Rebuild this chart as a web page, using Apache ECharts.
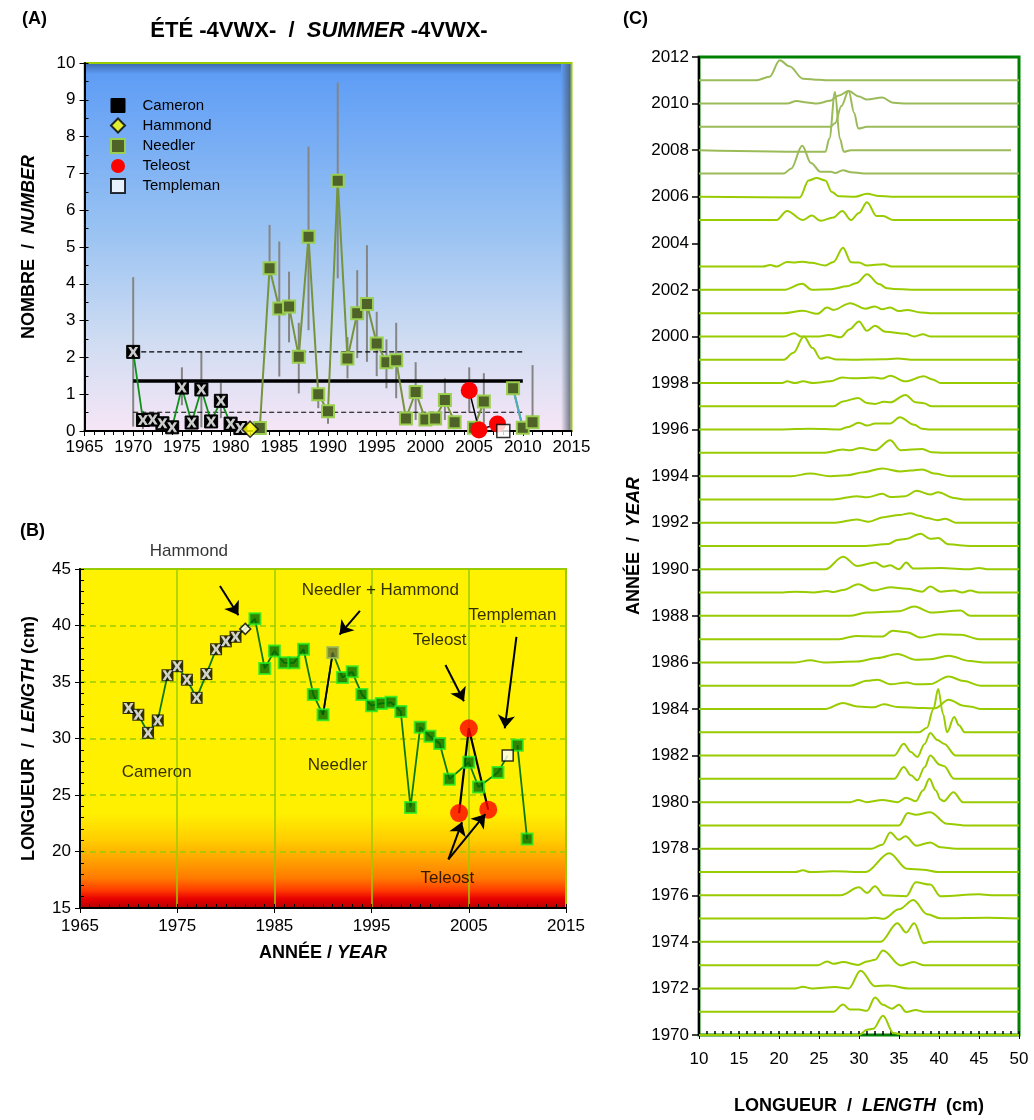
<!DOCTYPE html>
<html>
<head>
<meta charset="utf-8">
<script src="https://cdn.jsdelivr.net/npm/echarts/dist/echarts.min.js"></script>
<style>
  html, body { margin: 0; padding: 0; background: #fff; }
  #main { width: 1034px; height: 1120px; }
</style>
</head>
<body>
<div id="main"></div>
<script>
// ---------- panel A : number per tow ----------
const camYearsA = [1970, 1971, 1972, 1973, 1974, 1975, 1976, 1977, 1978, 1979, 1980, 1981];
const camA = [2.15, 0.30, 0.31, 0.21, 0.10, 1.18, 0.23, 1.13, 0.26, 0.82, 0.20, 0.08];
const hamYearsA = [1982];
const hamA = [0.05];
const needYearsA = [1983, 1984, 1985, 1986, 1987, 1988, 1989, 1990, 1991, 1992, 1993, 1994, 1995,
  1996, 1997, 1998, 1999, 2000, 2001, 2002, 2003, 2005, 2006, 2009, 2010, 2011];
const needA = [0.08, 4.42, 3.33, 3.38, 2.02, 5.28, 1.00, 0.54, 6.80, 1.97, 3.20, 3.45, 2.38,
  1.87, 1.92, 0.34, 1.06, 0.31, 0.34, 0.84, 0.24, 0.09, 0.80, 1.16, 0.09, 0.24];
const telYearsA = [2004.5, 2005.5, 2007.4];
const telA = [1.10, 0.03, 0.19];
const tplYearsA = [2008];
const tplA = [0.0];
const errYearsA = [1970, 1971, 1975, 1977, 1979, 1984, 1985, 1986, 1987, 1988, 1989, 1990, 1991,
  1992, 1993, 1994, 1995, 1996, 1997, 1999, 2002, 2004.5, 2006, 2011];
const errLoA = [0.12, 0.05, 0.70, 0.10, 0.35, 4.30, 1.48, 2.41, 1.02, 2.74, 0.62, 0.20, 4.15,
  1.43, 1.98, 1.88, 1.49, 1.16, 0.89, 0.30, 0.30, 0.50, 0.20, 0.24];
const errHiA = [4.18, 0.55, 1.73, 2.15, 1.31, 5.60, 5.15, 4.33, 2.94, 7.73, 1.00, 0.54, 9.47,
  2.55, 4.37, 5.05, 3.24, 2.49, 2.94, 1.87, 1.43, 1.73, 1.57, 1.79];
const refYearsA = [1970, 2010];
const meanA = 1.36, upperA = 2.15, lowerA = 0.51;

// ---------- panel B : mean length ----------
const camYearsB = [1970, 1971, 1972, 1973, 1974, 1975, 1976, 1977, 1978, 1979, 1980, 1981];
const camB = [32.7, 32.1, 30.5, 31.6, 35.6, 36.4, 35.2, 33.6, 35.7, 37.9, 38.6, 39.0];
const hamYearsB = [1982];
const hamB = [39.7];
const needYearsB = [1983, 1984, 1985, 1986, 1987, 1988, 1989, 1990, 1991, 1992, 1993, 1994, 1995,
  1996, 1997, 1998, 1999, 2000, 2001, 2002, 2003, 2005, 2006, 2008, 2010, 2011];
const needB = [40.6, 36.2, 37.75, 36.7, 36.7, 37.9, 33.9, 32.1, 37.6, 35.4, 35.9, 33.9, 32.9,
  33.1, 33.2, 32.4, 23.9, 31.0, 30.2, 29.55, 26.4, 27.9, 25.7, 27.0, 29.4, 21.1];
const mixYearB = 1991; // Needler + Hammond
const telYearsB = [2004, 2005, 2007];
const telB = [23.4, 30.9, 23.7];
const tplYearsB = [2009];
const tplB = [28.5];
const noteTextB = ['Hammond', 'Needler + Hammond', 'Teleost', 'Templeman', 'Cameron', 'Needler', 'Teleost'];
const noteAtB = [[1976.2, 46.6], [1995.9, 43.1], [2002.0, 38.7], [2009.5, 40.9], [1972.9, 27.0], [1991.5, 27.6], [2002.8, 17.6]];
const arrowsB = [
  [1979.4, 43.5, 1981.3, 40.9],
  [1993.8, 41.3, 1991.7, 39.2],
  [2002.6, 36.5, 2004.5, 33.3],
  [2009.9, 39.0, 2008.7, 30.9],
  [2002.9, 19.3, 2004.3, 22.6],
  [2002.9, 19.3, 2006.7, 23.3]
];

// ---------- panel C : length frequencies by year ([length, height]) ----------
const ridgeYears = [1970, 1971, 1972, 1973, 1974, 1975, 1976, 1977, 1978, 1979, 1980, 1981, 1982,
  1983, 1984, 1985, 1986, 1987, 1988, 1989, 1990, 1991, 1992, 1993, 1994, 1995, 1996, 1997, 1998,
  1999, 2000, 2001, 2002, 2003, 2005, 2006, 2007, 2008, 2009, 2010, 2011];
const ridgeShapes = [
  [[10,0],[30,0],[31,0.23],[31.8,0.27],[33,0.83],[34.3,0.09],[35.6,0],[50,0]],
  [[10,0],[26.8,0],[28,0.31],[28.9,0.09],[30,0.09],[31,0.04],[32,0.61],[33,0.3],[34.1,0.13],[35,0.3],[35.9,-0.01],[37.1,0.07],[38.1,0],[50,0]],
  [[10,0],[22,0],[23,0.07],[24.1,0],[27,0.06],[28.7,0],[30.2,0.76],[32,0.09],[33.7,0.13],[36.2,0],[50,0]],
  [[10,0],[24.9,0],[26,0.16],[26.8,0.06],[28,0.13],[29.9,0.01],[31,0.16],[32,0.23],[33,0.63],[35.2,-0.01],[36.8,0.13],[38.1,0],[50,0]],
  [[10,0],[32.7,0],[34.8,0.8],[35.9,0.4],[36.9,0.8],[38.1,-0.06],[38.9,0],[50,0]],
  [[10,0],[31,0],[32,0.04],[33.1,-0.01],[35,0.4],[36.8,0.8],[38.5,0.19],[40.2,0.01],[46,0.04],[50,0]],
  [[10,0],[27.7,0],[30,0.34],[31,0.1],[32,0.39],[33.1,0],[35.9,-0.04],[37.1,0.56],[38.9,0.46],[40.2,-0.04],[45,0.04],[46.5,0],[50,0]],
  [[10,0],[22,0],[23,0.07],[23.9,0],[26.8,0.03],[30.8,0],[33.8,0.81],[36,0.14],[38,0.1],[39.8,0],[50,0]],
  [[10,0],[31.6,0],[32.9,0.17],[33.9,0.7],[35,0.39],[35.8,0.53],[37.2,0.13],[38.9,0.27],[40.2,0.06],[42.1,0],[50,0]],
  [[10,0],[35,0],[36.1,0.53],[37.1,0.46],[38.9,0.57],[41,0.07],[43.1,0],[50,0]],
  [[10,0],[28.9,0],[29.9,0.09],[31,0],[32.9,0.09],[34.8,0],[35.9,0.19],[37.1,0.04],[38,0.5],[38.8,1.0],[39.6,0.5],[40.2,0.11],[40.6,0.04],[41.8,0.43],[43,0],[50,0]],
  [[10,0],[34.4,0],[35.6,0.51],[36.5,0.15],[37.3,-0.06],[38.2,0.5],[38.9,1.0],[40.1,0.61],[40.6,0.55],[41.9,0],[50,0]],
  [[10,0],[34.4,0],[35.6,0.51],[36.5,0.15],[37.3,-0.06],[38.2,0.5],[38.9,0.97],[39.8,0.67],[40.6,0.51],[42.1,0],[50,0]],
  [[10,0],[37.5,0],[38.5,0.2],[39.3,1.0],[39.9,1.86],[40.5,0.8],[41,0],[41.9,0.66],[42.5,0.3],[43.2,0],[50,0]],
  [[10,0],[25.8,0],[28,0.26],[29.8,0.11],[31.8,0.07],[33.1,0.2],[34.8,0.09],[38.1,0.04],[39.5,0.03],[41.2,0.4],[43.1,0.14],[44,0.1],[45.2,0],[50,0]],
  [[10,0],[28.9,0],[31,0.21],[32.3,0.26],[33.9,0.06],[36,0.14],[37.1,0.06],[38.9,0.07],[41.2,0.4],[43.1,0.2],[45.2,0],[50,0]],
  [[10,0],[22,0],[23.9,0.09],[25.6,0],[29.8,0.04],[32.3,0.19],[34.8,0.36],[37.1,0.11],[38.9,0.14],[41.2,0.29],[43.9,0.06],[45.6,0],[50,0]],
  [[10,0],[27.5,0],[29.6,0.14],[32.9,0.11],[34.2,0.36],[36,0.3],[37.7,0.07],[40,0.21],[42.7,0.19],[45,0],[50,0]],
  [[10,0],[28.8,0],[31,0.14],[33.5,0.18],[35,0.2],[36.9,0.4],[39.1,0.14],[42.7,0.23],[43.9,0],[50,0]],
  [[10,0],[20.5,0],[22,0.04],[24.3,0],[26,0.07],[26.8,0.02],[28,0.11],[29.9,0.36],[31.8,0.09],[33.9,0.23],[36,0.16],[37.9,0.04],[38.9,0.26],[40.2,0.04],[41.9,0.09],[42.9,0],[43.9,0.09],[45,0],[50,0]],
  [[10,0],[25.8,0],[28,0.54],[29.8,0.14],[32,0.29],[33.1,0.11],[33.9,0.17],[35,0],[35.9,0.29],[36.8,0.03],[40.2,0.05],[43.9,0],[45,0.06],[46,0],[50,0]],
  [[10,0],[30.5,0],[33.7,0.09],[34.8,0.26],[35.8,0.3],[37.7,0.53],[38.9,0.31],[39.9,0.34],[41.2,0.07],[43.9,0],[50,0]],
  [[10,0],[27,0],[29.7,0.14],[31.2,0.04],[33.1,0.24],[35,0.33],[36.4,0.41],[37.5,0.3],[38.5,0.2],[39.8,0.11],[40.8,0.17],[42.1,0],[50,0]],
  [[10,0],[26.8,0],[29.7,0.14],[31,0.09],[32.9,0.24],[33.9,0.1],[35.8,0.14],[37.2,0.37],[38.9,0.21],[39.9,0.31],[41.9,0.06],[43.1,0],[50,0]],
  [[10,0],[21.5,0],[23.9,0.11],[26.4,0],[28.5,0.04],[30.6,0.17],[32.9,0.33],[35.2,0.2],[36.4,0.24],[37.9,0.29],[39.4,0.11],[41.4,0],[50,0]],
  [[10,0],[25.5,0],[28,0.14],[28.9,0.11],[30.2,0.21],[32,0.11],[33.9,0.54],[35.2,0.11],[37.9,0.17],[39.1,0.03],[40.6,0],[50,0]],
  [[10,0],[20,0],[23.9,0.04],[27.6,0],[28.5,0.1],[30,0.29],[31,0.17],[32,0.26],[33.9,0.26],[35.1,0.53],[36.9,0.21],[37.9,0.03],[39,0],[50,0]],
  [[10,0],[26.8,0],[28,0.21],[29.9,0.36],[31,0.14],[32,0.1],[33.1,0.19],[33.9,0.17],[35.8,0.49],[37.1,0.17],[38.1,0.13],[39.1,0],[50,0]],
  [[10,0],[20.4,0],[21,0.07],[22,0],[23,0.07],[24.3,0],[26.4,0.07],[27.9,0.24],[29.1,0.2],[30.5,0.21],[31.8,0.24],[32.9,0.19],[33.9,0.31],[35.8,0.07],[38.1,0.29],[39.2,0.15],[40.2,0],[50,0]],
  [[10,0],[20.6,0],[21.8,0.3],[23.1,1.0],[24.2,0.5],[25.2,0.04],[26,0.11],[27.2,0.01],[29,0],[33,0.02],[34.8,0.05],[37,0],[50,0]],
  [[10,0],[20.6,0],[21.9,0.14],[22.7,0],[25,0],[26.2,0.06],[27.7,-0.04],[28.8,0.3],[30,0.64],[31,0.24],[32,0.46],[33.3,0.2],[35.8,0.11],[36.9,0],[38,0.09],[38.9,0],[50,0]],
  [[10,0],[20.6,0],[23,0.1],[24.8,-0.03],[26,0.24],[26.8,0.14],[28.9,0.43],[30.8,0.19],[32,0.29],[32.9,0.17],[33.9,0.24],[35,0.09],[36,0.14],[37.7,0.03],[38.9,0],[50,0]],
  [[10,0],[20.6,0],[22.9,0.26],[24.1,0],[26.5,0.03],[28.5,0.15],[29.7,0.29],[31,0.67],[32.5,0.25],[33.5,0.07],[34.3,0.04],[37.7,0],[50,0]],
  [[10,0],[18,0],[18.9,0.07],[19.7,0],[21,0.2],[22,0.18],[23,0.21],[24,0.16],[25.8,0.05],[26.8,0.2],[28,0.81],[29,0.19],[30,0.17],[31,0.05],[33.1,0.1],[34.1,0],[50,0]],
  [[10,0],[19.7,0],[21,0.39],[23,0],[24.1,0.19],[25.2,-0.03],[26.8,0.11],[27.9,0.39],[29,0],[30,0.3],[31,0.76],[32.2,0.17],[33,0.17],[34.3,0],[50,0]],
  [[10,0],[22.6,-0.03],[23.7,0.7],[24.7,0.8],[25.8,0.7],[26.6,0.2],[27.5,0.02],[29.5,0],[31,0.13],[32.5,0.03],[34,0],[50,0]],
  [[10,0],[20.6,0],[21.5,0.2],[22.9,1.19],[24,0.45],[25.2,0.07],[26.5,0.07],[27,0.02],[28,0.14],[29,0.05],[30.6,0],[50,0]],
  [[10,0],[25.8,-0.07],[26.3,0.5],[27.0,2.5],[27.6,0.5],[28.1,-0.07],[29,0],[49,0]],
  [[10,0],[26.4,0],[27,0.15],[27.8,0.9],[28.7,1.54],[29.4,0.6],[29.9,-0.07],[31,0],[50,0]],
  [[10,0],[21,0],[22.2,0.11],[23.5,0.05],[24.7,0],[26.4,0.12],[27.5,0.35],[28.7,0.54],[30,0.3],[31,0.17],[32.9,0.26],[34.3,0.03],[36,0],[50,0]],
  [[10,0],[17.2,0],[18.8,0.15],[20.1,0.86],[21.3,0.6],[23,0.07],[25,0.02],[26,0],[50,0]]
];

const FONT = 'Liberation Sans';
const xMark = 'path://M0,0L3,0L5,3.2L7,0L10,0L6.8,5L10,10L7,10L5,6.8L3,10L0,10L3.2,5Z';
const pairs = (xs, ys) => xs.map((x, i) => [x, ys[i]]);
const withGaps = (xs, ys) => {
  const out = [];
  xs.forEach((x, i) => {
    if (i > 0 && x - xs[i - 1] > 1) out.push([(x + xs[i - 1]) / 2, null]);
    out.push([x, ys[i]]);
  });
  return out;
};
const txt = { fontFamily: FONT, fontSize: 17, color: '#000', formatter: v => String(v) };
const bold = (size) => ({ fontFamily: FONT, fontSize: size, fontWeight: 'bold', color: '#000',
  rich: { i: { fontFamily: FONT, fontSize: size, fontWeight: 'bold', fontStyle: 'italic', color: '#000' } } });

const chart = echarts.init(document.getElementById('main'));

// trend line of panel B (Cameron -> Hammond -> Needler -> Templeman, break before 2010)
const needUntil = needYearsB.filter(y => y <= 2008);
const trendB = [].concat(
  pairs(camYearsB, camB), pairs(hamYearsB, hamB),
  needUntil.map(y => [y, needB[needYearsB.indexOf(y)]]),
  pairs(tplYearsB, tplB), [[2009.5, null]],
  needYearsB.filter(y => y > 2009).map(y => [y, needB[needYearsB.indexOf(y)]])
);

const ridgeSeries = ridgeYears.map((yr, k) => ({
  type: 'line', name: 'ridge' + yr, xAxisIndex: 2, yAxisIndex: 2,
  data: ridgeShapes[k].map(p => [p[0], yr + p[1]]),
  symbol: 'none', smooth: 0.35, smoothMonotone: 'x', silent: true, animation: false,
  lineStyle: { color: yr >= 2007 ? '#9bbb59' : '#99cc00', width: 2 }, z: 3
}));

const option = {
  animation: false,
  grid: [
    { left: 84.5, top: 63, width: 487, height: 368, show: true, borderColor: '#99cc00', borderWidth: 2,
      backgroundColor: new echarts.graphic.LinearGradient(0, 0, 0, 1, [
        { offset: 0, color: '#5a9af6' }, { offset: 0.45, color: '#98c2f2' },
        { offset: 0.75, color: '#cfdcf2' }, { offset: 1, color: '#f6e6f6' }]) },
    { left: 80, top: 569, width: 486, height: 339, show: true, borderColor: '#99cc00', borderWidth: 2,
      backgroundColor: new echarts.graphic.LinearGradient(0, 0, 0, 1, [
        { offset: 0, color: '#fff200' }, { offset: 0.72, color: '#fff000' },
        { offset: 0.80, color: '#ffcc00' }, { offset: 0.86, color: '#ffa000' },
        { offset: 0.91, color: '#ff7a00' }, { offset: 0.945, color: '#ff3c00' },
        { offset: 0.97, color: '#e80000' }, { offset: 1, color: '#b00000' }]) },
    { left: 699, top: 57, width: 320, height: 978, show: true, borderColor: '#008000', borderWidth: 3,
      backgroundColor: '#fff' }
  ],
  xAxis: [
    { gridIndex: 0, type: 'value', min: 1965, max: 2015, interval: 5,
      axisLine: { lineStyle: { color: '#000', width: 2 } },
      axisTick: { length: 5, lineStyle: { color: '#000' } },
      minorTick: { show: true, splitNumber: 5, length: 4, lineStyle: { color: '#000' } },
      axisLabel: { ...txt, margin: 8 }, splitLine: { show: false } },
    { gridIndex: 1, type: 'value', min: 1965, max: 2015, interval: 10,
      axisLine: { lineStyle: { color: '#000', width: 2 } },
      axisTick: { length: 5, lineStyle: { color: '#000' } },
      axisLabel: { ...txt, margin: 10 },
      splitLine: { show: true, lineStyle: { color: '#99cc00', width: 1.5 } },
      name: 'ANNÉE / {i|YEAR}', nameLocation: 'middle', nameGap: 36, nameTextStyle: bold(18) },
    { gridIndex: 2, type: 'value', min: 10, max: 50, interval: 5,
      axisLine: { show: false },
      axisTick: { length: 4, lineStyle: { color: '#000' } },
      axisLabel: { ...txt, margin: 16 }, splitLine: { show: false },
      name: 'LONGUEUR  /  {i|LENGTH}  (cm)', nameLocation: 'middle', nameGap: 62, nameTextStyle: bold(18) },
    { gridIndex: 1, type: 'value', min: 1965, max: 2015, interval: 1, position: 'bottom',
      axisLine: { show: false }, axisLabel: { show: false }, splitLine: { show: false },
      axisTick: { inside: true, length: 4, lineStyle: { color: '#000' } } },
    { gridIndex: 2, type: 'value', min: 10, max: 50, interval: 1, position: 'bottom',
      axisLine: { show: false }, axisLabel: { show: false }, splitLine: { show: false },
      axisTick: { inside: true, length: 4, lineStyle: { color: '#000', width: 1.5 } } }
  ],
  yAxis: [
    { gridIndex: 0, type: 'value', min: 0, max: 10, interval: 1,
      axisLine: { show: true, lineStyle: { color: '#000', width: 2 } },
      axisTick: { show: true, length: 5, lineStyle: { color: '#000' } },
      axisLabel: { ...txt, margin: 9 }, splitLine: { show: false },
      name: 'NOMBRE  /  {i|NUMBER}', nameLocation: 'middle', nameGap: 46, nameTextStyle: bold(18) },
    { gridIndex: 1, type: 'value', min: 15, max: 45, interval: 5,
      axisLine: { show: true, lineStyle: { color: '#000', width: 2 } },
      axisTick: { show: true, length: 5, lineStyle: { color: '#000' } },
      axisLabel: { ...txt, margin: 9 },
      splitLine: { show: true, lineStyle: { color: '#99cc00', type: [6, 4], width: 1.5 } },
      name: 'LONGUEUR  /  {i|LENGTH} (cm)', nameLocation: 'middle', nameGap: 42, nameTextStyle: bold(18) },
    { gridIndex: 2, type: 'value', min: 1970, max: 2012, interval: 2,
      axisLine: { show: true, lineStyle: { color: '#000', width: 2 } },
      axisTick: { show: true, length: 7, lineStyle: { color: '#000', width: 1.5 } },
      axisLabel: { ...txt, margin: 10 }, splitLine: { show: false },
      name: 'ANNÉE  /  {i|YEAR}', nameLocation: 'middle', nameGap: 56, nameTextStyle: bold(18) },
    { gridIndex: 0, type: 'value', min: 0, max: 10, interval: 0.5, position: 'left',
      axisLine: { show: false }, axisLabel: { show: false }, splitLine: { show: false },
      axisTick: { show: true, inside: true, length: 4, lineStyle: { color: '#000' } } },
    { gridIndex: 1, type: 'value', min: 15, max: 45, interval: 1, position: 'left',
      axisLine: { show: false }, axisLabel: { show: false }, splitLine: { show: false },
      axisTick: { show: true, inside: true, length: 4, lineStyle: { color: '#000' } } }
  ],
  legend: {
    orient: 'vertical', left: 105, top: 93, itemWidth: 14, itemHeight: 14, itemGap: 4.5,
    selectedMode: false, formatter: '   {name}',
    textStyle: { fontFamily: FONT, fontSize: 15, color: '#000' },
    data: [
      { name: 'Cameron', icon: 'rect', itemStyle: { color: '#000', borderColor: '#000', borderWidth: 1 } },
      { name: 'Hammond', icon: 'diamond' },
      { name: 'Needler', icon: 'rect' },
      { name: 'Teleost', icon: 'circle' },
      { name: 'Templeman', icon: 'rect' }
    ]
  },
  graphic: { elements: [
    { type: 'text', x: 22, y: 10, style: { text: '(A)', font: 'bold 18px "Liberation Sans"', fill: '#000' } },
    { type: 'text', x: 319, y: 31, style: { text: 'ÉTÉ -4VWX-  /  {i|SUMMER} -4VWX-',
      font: 'bold 22px "Liberation Sans"', fill: '#000', align: 'center', verticalAlign: 'middle',
      rich: { i: { fontFamily: FONT, fontSize: 22, fontWeight: 'bold', fontStyle: 'italic', fill: '#000' } } } },
    { type: 'text', x: 20, y: 522, style: { text: '(B)', font: 'bold 18px "Liberation Sans"', fill: '#000' } },
    { type: 'text', x: 623, y: 10, style: { text: '(C)', font: 'bold 18px "Liberation Sans"', fill: '#000' } },
    { type: 'rect', z: 1, shape: { x: 561, y: 64, width: 9.5, height: 366 },
      style: { fill: new echarts.graphic.LinearGradient(0, 0, 1, 0, [
        { offset: 0, color: 'rgba(70,80,100,0)' }, { offset: 1, color: 'rgba(70,80,100,0.75)' }]) } },
    { type: 'rect', z: 1, shape: { x: 86, y: 64, width: 475, height: 10 },
      style: { fill: new echarts.graphic.LinearGradient(0, 0, 0, 1, [
        { offset: 0, color: 'rgba(40,70,120,0.55)' }, { offset: 1, color: 'rgba(40,70,120,0)' }]) } }
  ] },
  series: [
    // ----- panel A -----
    { type: 'custom', name: 'errA', xAxisIndex: 0, yAxisIndex: 0, silent: true, z: 2,
      data: errYearsA.map((y, i) => [y, errLoA[i], errHiA[i]]),
      encode: { x: 0, y: [1, 2] },
      renderItem: (params, api) => {
        const p1 = api.coord([api.value(0), api.value(1)]);
        const p2 = api.coord([api.value(0), api.value(2)]);
        return { type: 'line', shape: { x1: p1[0], y1: p1[1], x2: p2[0], y2: p2[1] },
          style: { stroke: '#858585', lineWidth: 2 } };
      } },
    { type: 'line', name: 'meanA', xAxisIndex: 0, yAxisIndex: 0, symbol: 'none', silent: true, z: 3,
      data: refYearsA.map(y => [y, meanA]), lineStyle: { color: '#000', width: 3.5 } },
    { type: 'line', name: 'upperA', xAxisIndex: 0, yAxisIndex: 0, symbol: 'none', silent: true, z: 3,
      data: refYearsA.map(y => [y, upperA]), lineStyle: { color: '#000', width: 1.2, type: [5, 3] } },
    { type: 'line', name: 'lowerA', xAxisIndex: 0, yAxisIndex: 0, symbol: 'none', silent: true, z: 3,
      data: refYearsA.map(y => [y, lowerA]), lineStyle: { color: '#000', width: 1.2, type: [5, 3] } },
    { type: 'line', name: 'Cameron', xAxisIndex: 0, yAxisIndex: 0, data: pairs(camYearsA, camA),
      symbol: 'rect', symbolSize: 13, z: 4, lineStyle: { color: '#11901a', width: 1.8 },
      itemStyle: { color: '#000', borderColor: '#000', borderWidth: 1 } },
    { type: 'scatter', name: 'camXA', xAxisIndex: 0, yAxisIndex: 0, data: pairs(camYearsA, camA),
      symbol: xMark, symbolSize: 10, z: 5, silent: true, itemStyle: { color: '#fff' } },
    { type: 'scatter', name: 'Hammond', xAxisIndex: 0, yAxisIndex: 0, data: pairs(hamYearsA, hamA),
      symbol: 'diamond', symbolSize: 16, z: 5,
      itemStyle: { color: '#ffff00', borderColor: '#000', borderWidth: 1.5 } },
    { type: 'line', name: 'Needler', xAxisIndex: 0, yAxisIndex: 0, data: withGaps(needYearsA, needA),
      symbol: 'rect', symbolSize: 12, z: 4, connectNulls: false,
      lineStyle: { color: '#77933c', width: 2 },
      itemStyle: { color: '#4f6228', borderColor: '#9bcf4f', borderWidth: 2 } },
    { type: 'line', name: 'needBlueA', xAxisIndex: 0, yAxisIndex: 0, symbol: 'none', silent: true, z: 4,
      data: pairs(needYearsA.slice(23, 25), needA.slice(23, 25)), lineStyle: { color: '#4bacc6', width: 2 } },
    { type: 'line', name: 'Teleost', xAxisIndex: 0, yAxisIndex: 0, data: pairs(telYearsA, telA),
      symbol: 'circle', symbolSize: 17, z: 4, lineStyle: { color: '#000', width: 1.5 },
      itemStyle: { color: '#ff0000' } },
    { type: 'scatter', name: 'Templeman', xAxisIndex: 0, yAxisIndex: 0, data: pairs(tplYearsA, tplA),
      symbol: 'rect', symbolSize: 13, z: 5,
      itemStyle: { color: '#fff', borderColor: '#000', borderWidth: 1.5 } },

    // ----- panel B -----
    { type: 'line', name: 'trendB', xAxisIndex: 1, yAxisIndex: 1, data: trendB, symbol: 'none',
      connectNulls: false, silent: true, z: 3, lineStyle: { color: '#0a7a0a', width: 1.8 } },
    { type: 'line', name: 'mixLinkB', xAxisIndex: 1, yAxisIndex: 1, symbol: 'none', silent: true, z: 3,
      data: [mixYearB - 1, mixYearB].map(y => [y, needB[needYearsB.indexOf(y)]]),
      lineStyle: { color: '#000', width: 1.8 } },
    { type: 'line', name: 'telLinkB', xAxisIndex: 1, yAxisIndex: 1, data: pairs(telYearsB, telB),
      symbol: 'none', silent: true, z: 3, lineStyle: { color: '#000', width: 2.2 } },
    { type: 'scatter', name: 'camB', xAxisIndex: 1, yAxisIndex: 1, data: pairs(camYearsB, camB),
      symbol: 'rect', symbolSize: 12, z: 4, itemStyle: { color: '#000' } },
    { type: 'scatter', name: 'camXB', xAxisIndex: 1, yAxisIndex: 1, data: pairs(camYearsB, camB),
      symbol: xMark, symbolSize: 10, z: 5, silent: true, itemStyle: { color: '#fff' } },
    { type: 'scatter', name: 'hamB', xAxisIndex: 1, yAxisIndex: 1, data: pairs(hamYearsB, hamB),
      symbol: 'diamond', symbolSize: 11, z: 5,
      itemStyle: { color: '#fff', borderColor: '#000', borderWidth: 1.5 } },
    { type: 'scatter', name: 'needB', xAxisIndex: 1, yAxisIndex: 1, z: 4,
      data: needYearsB.map((y, i) => y === mixYearB
        ? { value: [y, needB[i]], itemStyle: { color: '#5b6b37', borderColor: '#9bbb59' } }
        : [y, needB[i]]),
      symbol: 'rect', symbolSize: 11,
      itemStyle: { color: '#006a00', borderColor: '#22ee22', borderWidth: 2 } },
    { type: 'scatter', name: 'telB', xAxisIndex: 1, yAxisIndex: 1, data: pairs(telYearsB, telB),
      symbol: 'circle', symbolSize: 18, z: 5, itemStyle: { color: '#ff0000' } },
    { type: 'scatter', name: 'tplB', xAxisIndex: 1, yAxisIndex: 1, data: pairs(tplYearsB, tplB),
      symbol: 'rect', symbolSize: 11, z: 5,
      itemStyle: { color: '#fff', borderColor: '#000', borderWidth: 1.5 } },
    { type: 'lines', name: 'arrowsB', coordinateSystem: 'cartesian2d', xAxisIndex: 1, yAxisIndex: 1,
      symbol: ['none', 'arrow'], symbolSize: 13, silent: true, z: 6,
      lineStyle: { color: '#000', width: 2, opacity: 1 },
      data: arrowsB.map(a => ({ coords: [[a[0], a[1]], [a[2], a[3]]] })) },
    { type: 'scatter', name: 'notesB', xAxisIndex: 1, yAxisIndex: 1, symbolSize: 0, silent: true,
      clip: false, z: 6,
      data: noteTextB.map((t, i) => ({ name: t, value: noteAtB[i] })),
      label: { show: true, position: 'inside', formatter: '{b}', fontFamily: FONT, fontSize: 17, color: '#000' } },

    // ----- panel C -----
    ...ridgeSeries
  ]
};

chart.setOption(option);
</script>
</body>
</html>
